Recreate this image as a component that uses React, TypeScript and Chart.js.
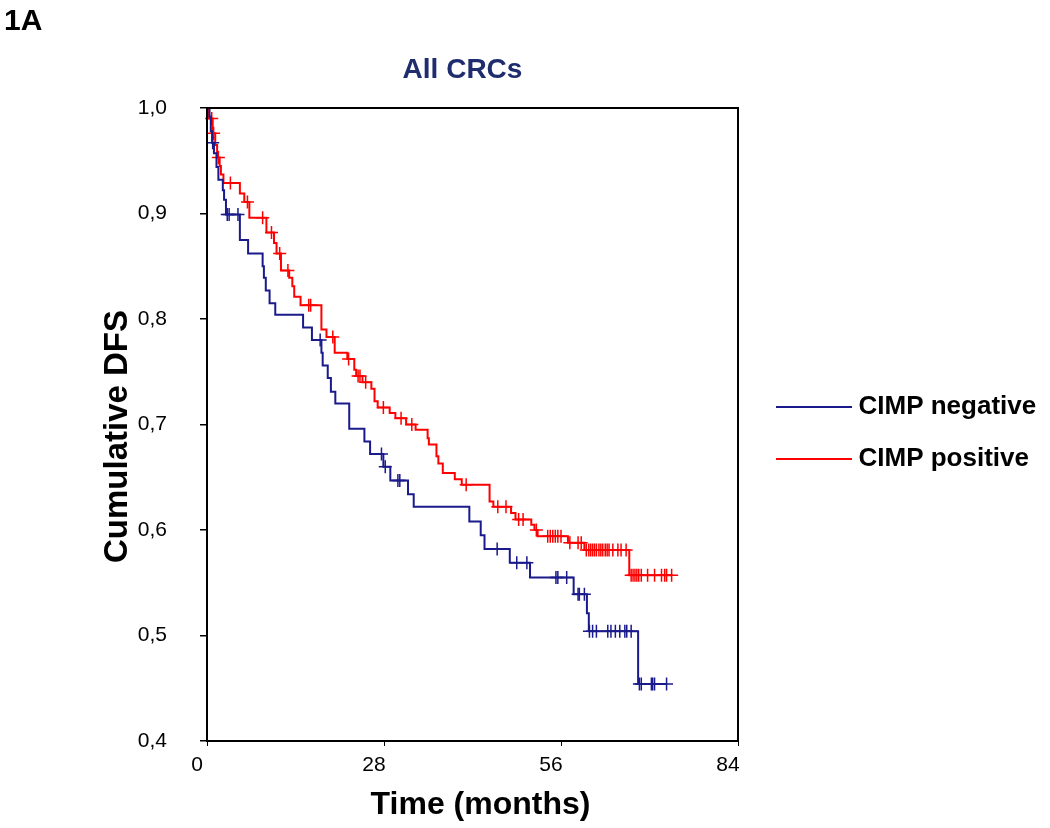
import React, { useEffect, useRef } from 'react';
import { Chart, registerables } from 'chart.js';

Chart.register(...registerables);

const FONT = "'Liberation Sans', Arial, Helvetica, sans-serif";

const NEG_COLOR = '#1a1a8c';
const POS_COLOR = '#ff0000';
const TITLE_COLOR = '#1f2d6e';

// Axis ticks
const xTickValues = [0, 28, 56, 84];
const xTickLabels = ['0', '28', '56', '84'];
const yTickValues = [0.4, 0.5, 0.6, 0.7, 0.8, 0.9, 1.0];
const yTickLabels = ['0,4', '0,5', '0,6', '0,7', '0,8', '0,9', '1,0'];

// CIMP negative: event times (months) and survival after each event
const negTimes = [0, 0.4, 0.6, 0.8, 1.1, 1.5, 1.8, 2.5, 2.7, 3.0, 5.2, 6.5, 8.8, 9.0, 9.3, 9.9, 10.8, 15.2, 16.6, 18.1, 18.3, 19.1, 19.6, 20.3, 22.5, 24.9, 25.8, 27.9, 29.0, 31.8, 32.7, 41.5, 43.3, 43.9, 47.9, 51.1, 58.0, 60.1, 60.4, 68.2];
const negSurv = [1.0, 0.992, 0.978, 0.967, 0.957, 0.944, 0.932, 0.922, 0.913, 0.899, 0.875, 0.862, 0.85, 0.839, 0.827, 0.815, 0.804, 0.792, 0.78, 0.768, 0.756, 0.744, 0.731, 0.72, 0.696, 0.684, 0.672, 0.66, 0.647, 0.634, 0.622, 0.608, 0.595, 0.582, 0.569, 0.555, 0.539, 0.521, 0.504, 0.454];
// CIMP negative: censored times
const negCensored = [0.9, 3.2, 3.5, 4.9, 17.9, 27.6, 28.2, 30.2, 30.5, 45.9, 49.0, 50.6, 55.2, 55.5, 56.9, 58.7, 58.9, 59.7, 60.5, 61.0, 61.6, 63.4, 63.9, 64.6, 65.3, 66.1, 66.4, 67.1, 68.4, 68.7, 70.3, 70.5, 70.8, 72.7];

// CIMP positive: event times (months) and survival after each event
const posTimes = [0, 0.3, 0.9, 1.3, 1.6, 2.0, 2.2, 2.6, 5.2, 5.9, 6.7, 9.4, 10.6, 11.0, 11.7, 13.0, 13.5, 13.8, 14.8, 18.1, 18.9, 20.2, 22.2, 23.3, 23.6, 24.6, 26.0, 26.5, 27.0, 28.9, 29.8, 31.5, 33.0, 34.9, 35.1, 36.3, 36.6, 37.3, 39.2, 40.3, 44.7, 45.3, 48.1, 48.8, 51.3, 51.8, 52.3, 57.1, 59.7, 66.8];
const posSurv = [1.0, 0.99, 0.976, 0.965, 0.953, 0.945, 0.937, 0.929, 0.919, 0.911, 0.896, 0.882, 0.872, 0.862, 0.846, 0.839, 0.831, 0.821, 0.813, 0.79, 0.783, 0.768, 0.762, 0.752, 0.746, 0.74, 0.734, 0.722, 0.716, 0.711, 0.706, 0.7, 0.695, 0.687, 0.681, 0.67, 0.663, 0.654, 0.648, 0.643, 0.627, 0.622, 0.616, 0.61, 0.605, 0.6, 0.594, 0.588, 0.581, 0.557];
// CIMP positive: censored times
const posCensored = [0.75, 1.05, 1.8, 3.7, 6.4, 8.8, 10.2, 11.5, 12.8, 16.1, 16.4, 19.9, 22.4, 23.9, 24.2, 25.1, 27.9, 30.7, 32.4, 41.0, 46.0, 47.3, 49.3, 50.0, 52.1, 53.9, 54.3, 54.7, 55.1, 55.5, 56.0, 57.4, 58.7, 59.2, 60.0, 60.4, 60.7, 61.0, 61.3, 61.6, 62.0, 62.3, 62.6, 63.0, 63.3, 63.6, 64.2, 65.0, 65.5, 66.3, 67.1, 67.4, 67.7, 68.0, 68.3, 68.7, 69.7, 70.8, 71.9, 72.4, 72.7, 73.5];

const seriesNames = ['CIMP negative', 'CIMP positive'];

function survivalAt(times: number[], surv: number[], t: number) {
  let v = surv[0];
  for (let i = 0; i < times.length; i++) {
    if (times[i] <= t) v = surv[i];
  }
  return v;
}

function stepLine(times: number[], surv: number[], censored: number[]) {
  const pts = times.map((t, i) => ({ x: t, y: surv[i] }));
  const end = censored[censored.length - 1];
  if (end > times[times.length - 1]) pts.push({ x: end, y: surv[surv.length - 1] });
  return pts;
}

function censorPoints(times: number[], surv: number[], censored: number[]) {
  return censored.map((t) => ({ x: t, y: survivalAt(times, surv, t) }));
}

const decorPlugin = {
  id: 'decor',
  afterDraw(chart: any) {
    const { ctx, chartArea: a } = chart;
    ctx.save();
    // plot frame
    ctx.strokeStyle = '#000';
    ctx.lineWidth = 2;
    ctx.strokeRect(a.left, a.top, a.right - a.left, a.bottom - a.top);

    ctx.fillStyle = '#000';
    ctx.textBaseline = 'alphabetic';
    // panel label
    ctx.textAlign = 'left';
    ctx.font = `bold 30px ${FONT}`;
    ctx.fillText('1A', 4, 30);

    // title
    ctx.textAlign = 'center';
    ctx.fillStyle = TITLE_COLOR;
    ctx.font = `bold 28px ${FONT}`;
    ctx.fillText('All CRCs', 462.5, 78);

    // axis titles
    ctx.fillStyle = '#000';
    ctx.font = `bold 33px ${FONT}`;
    ctx.save();
    ctx.translate(126.5, 436.5);
    ctx.rotate(-Math.PI / 2);
    ctx.fillText('Cumulative DFS', 0, 0);
    ctx.restore();
    ctx.font = `bold 32px ${FONT}`;
    ctx.fillText('Time (months)', 480.5, 814);

    // legend
    const items = [
      { label: seriesNames[0], color: NEG_COLOR, y: 407 },
      { label: seriesNames[1], color: POS_COLOR, y: 459 },
    ];
    ctx.textAlign = 'left';
    ctx.font = `bold 26px ${FONT}`;
    for (const it of items) {
      ctx.strokeStyle = it.color;
      ctx.lineWidth = 2;
      ctx.beginPath();
      ctx.moveTo(776, it.y);
      ctx.lineTo(852, it.y);
      ctx.stroke();
      ctx.fillStyle = '#000';
      ctx.fillText(it.label, 858.5, it.y + 7);
    }
    ctx.restore();
  },
};

export default function App() {
  const ref = useRef<HTMLCanvasElement>(null);
  useEffect(() => {
    const chart = new Chart(ref.current as HTMLCanvasElement, {
      type: 'scatter',
      data: {
        datasets: [
          {
            label: seriesNames[0],
            data: stepLine(negTimes, negSurv, negCensored),
            showLine: true,
            stepped: 'before',
            borderColor: NEG_COLOR,
            borderWidth: 2,
            pointRadius: 0,
            fill: false,
            clip: false,
          } as any,
          {
            label: seriesNames[0] + ' (censored)',
            data: censorPoints(negTimes, negSurv, negCensored),
            showLine: false,
            pointStyle: 'cross',
            pointRadius: 6.5,
            pointBorderColor: NEG_COLOR,
            pointBackgroundColor: NEG_COLOR,
            pointBorderWidth: 1.5,
            clip: false,
          } as any,
          {
            label: seriesNames[1],
            data: stepLine(posTimes, posSurv, posCensored),
            showLine: true,
            stepped: 'before',
            borderColor: POS_COLOR,
            borderWidth: 2,
            pointRadius: 0,
            fill: false,
            clip: false,
          } as any,
          {
            label: seriesNames[1] + ' (censored)',
            data: censorPoints(posTimes, posSurv, posCensored),
            showLine: false,
            pointStyle: 'cross',
            pointRadius: 6.5,
            pointBorderColor: POS_COLOR,
            pointBackgroundColor: POS_COLOR,
            pointBorderWidth: 1.5,
            clip: false,
          } as any,
        ],
      },
      options: {
        animation: false,
        responsive: false,
        devicePixelRatio: 1,
        layout: { padding: { top: 108, right: 312, bottom: 0, left: 0 } },
        plugins: {
          legend: { display: false },
          title: { display: false },
          tooltip: { enabled: false },
        },
        events: [],
        scales: {
          x: {
            type: 'linear',
            min: 0,
            max: 84,
            afterBuildTicks: (s: any) => {
              s.ticks = xTickValues.map((v) => ({ value: v }));
            },
            afterFit: (s: any) => {
              s.height = 87;
            },
            grid: { display: true, drawOnChartArea: false, drawTicks: true, tickLength: 5, color: '#000', lineWidth: 1 },
            border: { display: false },
            ticks: {
              font: { family: FONT, size: 21 },
              color: '#000',
              padding: 7,
              labelOffset: -10,
              maxRotation: 0,
              autoSkip: false,
              callback: (_v: any, i: number) => xTickLabels[i],
            },
          },
          y: {
            type: 'linear',
            min: 0.4,
            max: 1.0,
            afterBuildTicks: (s: any) => {
              s.ticks = yTickValues.map((v) => ({ value: v }));
            },
            afterFit: (s: any) => {
              s.width = 207;
            },
            grid: { display: true, drawOnChartArea: false, drawTicks: true, tickLength: 7, color: '#000', lineWidth: 1.5 },
            border: { display: false },
            ticks: {
              font: { family: FONT, size: 21 },
              color: '#000',
              padding: 33,
              autoSkip: false,
              callback: (_v: any, i: number) => yTickLabels[i],
            },
          },
        },
      } as any,
      plugins: [decorPlugin],
    });
    return () => chart.destroy();
  }, []);

  return (
    <div style={{ position: 'absolute', left: 0, top: 0, width: 1050, height: 828, background: '#fff' }}>
      <canvas ref={ref} width={1050} height={828} style={{ display: 'block' }} />
    </div>
  );
}
